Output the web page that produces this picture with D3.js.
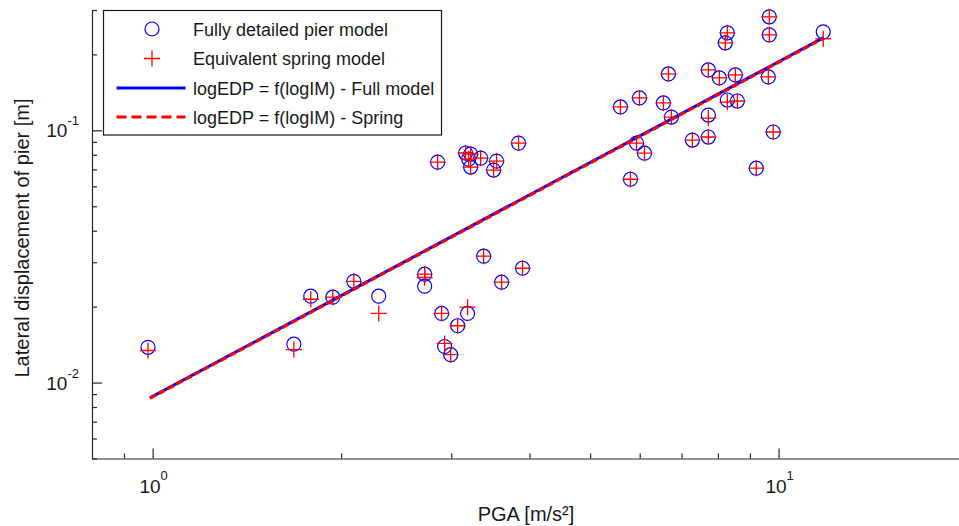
<!DOCTYPE html>
<html>
<head>
<meta charset="utf-8">
<script src="https://cdn.jsdelivr.net/npm/d3@7"></script>
<style>
  body { margin: 0; background: #fff; }
  text { font-family: "Liberation Sans", Arial, sans-serif; fill: #1a1a1a; }
</style>
</head>
<body>
<svg id="chart" width="959" height="526"></svg>
<script>
// PGA [m/s2] of each record
var pga = [0.983, 1.681, 1.789, 1.940, 2.096, 2.297, 2.720, 2.720, 2.895, 2.927,
  2.993, 3.071, 3.185, 3.379, 3.610, 3.899, 2.853, 3.162, 3.221, 3.197,
  3.221, 3.342, 3.544, 3.505, 3.842, 5.589, 5.995, 6.668, 6.546, 6.742,
  7.723, 8.042, 8.530, 8.282, 8.221, 9.665, 9.665, 11.785, 9.630, 8.282,
  8.594, 7.723, 7.723, 7.283, 9.806, 9.213, 5.799, 5.929, 6.106];

// lateral displacement, fully detailed pier model [m]
var fullEDP = [0.0138, 0.0142, 0.0220, 0.0218, 0.0252, 0.0220, 0.0269, 0.0241, 0.0188, 0.0139,
  0.0129, 0.0168, 0.0188, 0.0317, 0.0250, 0.0284, 0.0748, 0.0813, 0.0805, 0.0769,
  0.0715, 0.0776, 0.0755, 0.0696, 0.0890, 0.1238, 0.1344, 0.1674, 0.1284, 0.1129,
  0.1736, 0.1613, 0.1658, 0.2436, 0.2223, 0.2819, 0.2391, 0.2457, 0.1628, 0.1319,
  0.1307, 0.1150, 0.0941, 0.0915, 0.0985, 0.0708, 0.0640, 0.0890, 0.0812];

// lateral displacement, equivalent spring model [m]
var springEDP = [0.0134, 0.0135, 0.0214, 0.0218, 0.0252, 0.0188, 0.0269, 0.0261, 0.0188, 0.0143,
  0.0129, 0.0168, 0.0199, 0.0317, 0.0250, 0.0284, 0.0748, 0.0813, 0.0805, 0.0769,
  0.0715, 0.0776, 0.0755, 0.0696, 0.0890, 0.1238, 0.1344, 0.1674, 0.1284, 0.1129,
  0.1736, 0.1613, 0.1658, 0.2436, 0.2223, 0.2819, 0.2391, 0.2306, 0.1628, 0.1295,
  0.1307, 0.1119, 0.0941, 0.0915, 0.0985, 0.0708, 0.0640, 0.0890, 0.0812];

// regression lines logEDP = f(logIM), end points
var fitPga = [0.99, 11.8];
var fitFull = [0.0087, 0.233];
var fitSpring = [0.00866, 0.2318];

var xMajor = [1, 10];
var xMinor = [0.9, 2, 3, 4, 5, 6, 7, 8, 9, 20];
var yMajor = [0.01, 0.1];
var yMinor = [0.005, 0.006, 0.007, 0.008, 0.009, 0.02, 0.03, 0.04, 0.05, 0.06, 0.07, 0.08, 0.09, 0.2, 0.3];

var legendItems = ['Fully detailed pier model', 'Equivalent spring model',
  'logEDP = f(logIM) - Full model', 'logEDP = f(logIM) - Spring'];

var svg = d3.select('#chart');

var x = d3.scaleLog().domain([0.8, 20]).range([92, 967]);
var y = d3.scaleLog().domain([0.005, 0.3]).range([458.5, 10]);

var axisColor = '#262626';

// x axis, ticks pointing inwards
var gx = svg.append('g').attr('transform', 'translate(0,' + y.range()[0] + ')');
gx.call(d3.axisBottom(x).tickValues(xMajor).tickSize(-10).tickSizeOuter(0).tickFormat(''));
gx.append('g').call(d3.axisBottom(x).tickValues(xMinor).tickSize(-5).tickSizeOuter(0).tickFormat(''))
  .select('.domain').remove();
gx.selectAll('path, line').attr('stroke', axisColor).attr('stroke-width', 1.2);

var gy = svg.append('g').attr('transform', 'translate(' + x.range()[0] + ',0)');
gy.call(d3.axisLeft(y).tickValues(yMajor).tickSize(-10).tickSizeOuter(0).tickFormat(''));
gy.append('g').call(d3.axisLeft(y).tickValues(yMinor).tickSize(-5).tickSizeOuter(0).tickFormat(''))
  .select('.domain').remove();
gy.selectAll('path, line').attr('stroke', axisColor).attr('stroke-width', 1.2);

// tick labels 10^n
xMajor.forEach(function(v) {
  var t = svg.append('text')
    .attr('x', x(v) + 1)
    .attr('y', 493)
    .attr('text-anchor', 'middle')
    .style('font-size', '19px');
  t.append('tspan').text('10');
  t.append('tspan').attr('dy', -13).style('font-size', '13px').text(Math.round(Math.log10(v)));
});

yMajor.forEach(function(v) {
  var t = svg.append('text')
    .attr('x', 79)
    .attr('y', y(v) + 7)
    .attr('text-anchor', 'end')
    .style('font-size', '19px');
  t.append('tspan').text('10');
  t.append('tspan').attr('dy', -12).style('font-size', '13px').text(Math.round(Math.log10(v)));
});

// axis titles
svg.append('text')
  .attr('x', 526)
  .attr('y', 521)
  .attr('text-anchor', 'middle')
  .style('font-size', '20px')
  .text('PGA [m/s\u00b2]');

svg.append('text')
  .attr('transform', 'translate(29,238) rotate(-90)')
  .attr('text-anchor', 'middle')
  .style('font-size', '20px')
  .text('Lateral displacement of pier [m]');

// markers
var idx = d3.range(pga.length);

svg.append('g').selectAll('circle')
  .data(idx)
  .enter().append('circle')
  .attr('cx', function(i) { return x(pga[i]); })
  .attr('cy', function(i) { return y(fullEDP[i]); })
  .attr('r', 7)
  .attr('fill', 'none')
  .attr('stroke', '#0000ff')
  .attr('stroke-width', 1.2);

var crossPath = 'M-8,0H8M0,-8V8';
svg.append('g').selectAll('path')
  .data(idx)
  .enter().append('path')
  .attr('transform', function(i) { return 'translate(' + x(pga[i]) + ',' + y(springEDP[i]) + ')'; })
  .attr('d', crossPath)
  .attr('fill', 'none')
  .attr('stroke', '#ff0000')
  .attr('stroke-width', 1.3);

// regression lines
var line = d3.line()
  .x(function(d) { return x(d[0]); })
  .y(function(d) { return y(d[1]); });

svg.append('path')
  .attr('d', line(d3.zip(fitPga, fitFull)))
  .attr('fill', 'none')
  .attr('stroke', '#0000ff')
  .attr('stroke-width', 3);

svg.append('path')
  .attr('d', line(d3.zip(fitPga, fitSpring)))
  .attr('fill', 'none')
  .attr('stroke', '#ff0000')
  .attr('stroke-width', 3)
  .attr('stroke-dasharray', '7,3');

// legend
var lg = svg.append('g').attr('transform', 'translate(103.5,10.5)');
lg.append('rect')
  .attr('width', 338)
  .attr('height', 124.5)
  .attr('fill', '#fff')
  .attr('stroke', '#1a1a1a')
  .attr('stroke-width', 1.2);

var rowY = [18.5, 48, 77.5, 106.5];

lg.append('circle').attr('cx', 48.5).attr('cy', rowY[0]).attr('r', 7)
  .attr('fill', 'none').attr('stroke', '#0000ff').attr('stroke-width', 1.2);
lg.append('path').attr('transform', 'translate(48.5,' + rowY[1] + ')').attr('d', crossPath)
  .attr('fill', 'none').attr('stroke', '#ff0000').attr('stroke-width', 1.3);
lg.append('line').attr('x1', 13).attr('x2', 82).attr('y1', rowY[2]).attr('y2', rowY[2])
  .attr('stroke', '#0000ff').attr('stroke-width', 3);
lg.append('line').attr('x1', 13).attr('x2', 82).attr('y1', rowY[3]).attr('y2', rowY[3])
  .attr('stroke', '#ff0000').attr('stroke-width', 3).attr('stroke-dasharray', '10,5');

lg.selectAll('text.item')
  .data(legendItems)
  .enter().append('text')
  .attr('class', 'item')
  .attr('x', 89.5)
  .attr('y', function(d, i) { return rowY[i] + 6.5; })
  .style('font-size', '18px')
  .text(function(d) { return d; });
</script>
</body>
</html>
